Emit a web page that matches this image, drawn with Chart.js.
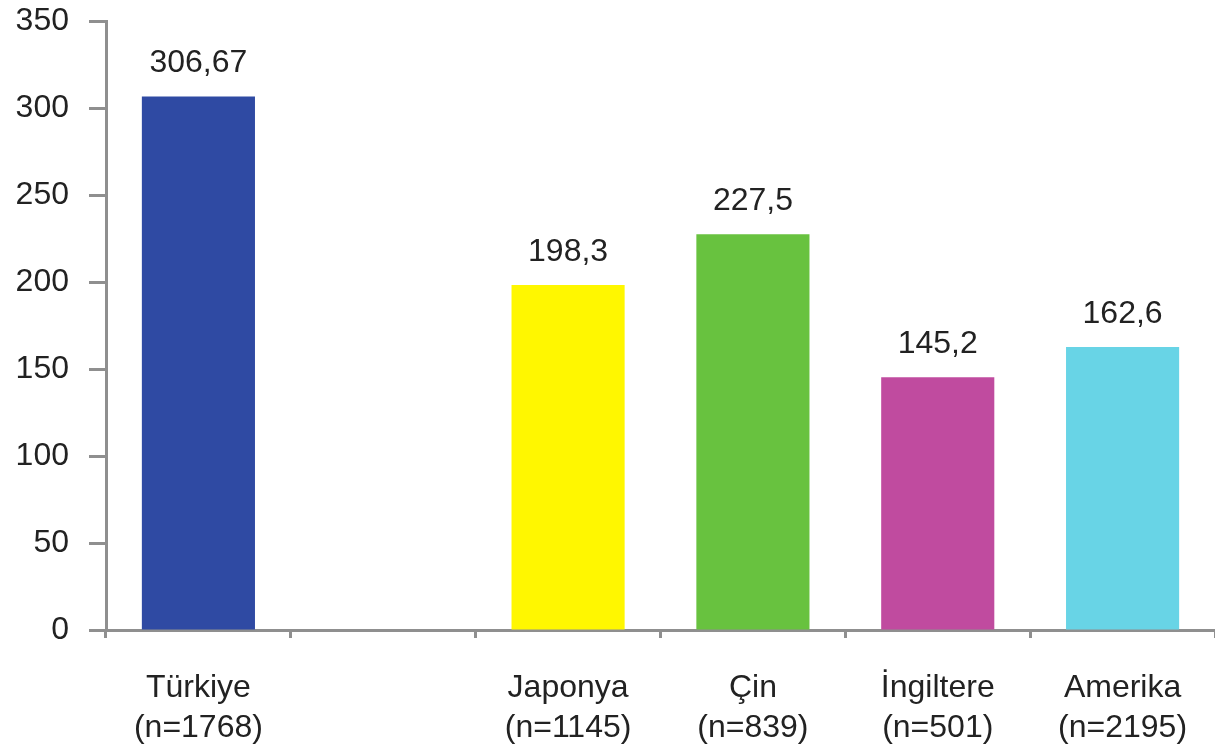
<!DOCTYPE html>
<html lang="tr">
<head>
<meta charset="utf-8">
<title>Ülkelere göre ortalama değerler</title>
<script src="https://cdn.jsdelivr.net/npm/chart.js@4.4.1/dist/chart.umd.min.js"></script>
<style>
  html, body { margin: 0; padding: 0; background: #ffffff; }
  #wrap { width: 1215px; height: 750px; position: relative; }
</style>
</head>
<body>
<div id="wrap"><canvas id="chart" width="1215" height="750"></canvas></div>
<script>
// Countries (with sample sizes); the empty slot keeps the gap after Türkiye
const countries = ['Türkiye', '', 'Japonya', 'Çin', 'İngiltere', 'Amerika'];
const sampleSizes = ['(n=1768)', '', '(n=1145)', '(n=839)', '(n=501)', '(n=2195)'];
const values = [306.67, null, 198.3, 227.5, 145.2, 162.6];
const barColors = ['#2F4AA3', '#ffffff', '#FFF700', '#68C23F', '#C04B9F', '#68D4E6'];
const yTicks = [0, 50, 100, 150, 200, 250, 300, 350];

const FONT = '"Liberation Sans", Arial, sans-serif';
const AXIS_GREY = '#8f8f8f';
const TEXT = '#222222';

const labels = countries.map((c, i) => c ? [c, sampleSizes[i]] : '');

// Writes each bar's value above it, with a decimal comma
const valueLabels = {
  id: 'valueLabels',
  afterDatasetsDraw(chart) {
    const ctx = chart.ctx;
    const meta = chart.getDatasetMeta(0);
    ctx.save();
    ctx.font = '32px ' + FONT;
    ctx.fillStyle = TEXT;
    ctx.textAlign = 'center';
    ctx.textBaseline = 'alphabetic';
    meta.data.forEach((bar, i) => {
      const v = values[i];
      if (v === null || v === undefined) return;
      ctx.fillText(String(v).replace('.', ','), bar.x, bar.y - 24);
    });
    ctx.restore();
  }
};

new Chart(document.getElementById('chart'), {
  type: 'bar',
  data: {
    labels: labels,
    datasets: [{
      data: values,
      backgroundColor: barColors,
      borderWidth: 0,
      barPercentage: 1,
      categoryPercentage: 0.612
    }]
  },
  options: {
    responsive: false,
    animation: false,
    devicePixelRatio: 1,
    layout: { padding: { top: 21, right: 0, bottom: 0, left: 0 } },
    plugins: {
      legend: { display: false },
      tooltip: { enabled: false }
    },
    scales: {
      x: {
        offset: true,
        border: { display: true, color: AXIS_GREY, width: 3 },
        grid: {
          display: true,
          drawOnChartArea: false,
          drawTicks: true,
          offset: true,
          tickLength: 8,
          tickWidth: 3,
          tickColor: AXIS_GREY
        },
        ticks: {
          color: TEXT,
          font: { family: FONT, size: 32, lineHeight: 1.25 },
          padding: 30,
          maxRotation: 0,
          autoSkip: false
        },
        afterFit(scale) {
          scale.height = 120;
          scale.paddingLeft = 0;
          scale.paddingRight = 0;
        }
      },
      y: {
        min: 0,
        max: 350,
        border: { display: true, color: AXIS_GREY, width: 3 },
        grid: {
          display: true,
          drawOnChartArea: false,
          drawTicks: true,
          tickLength: 17,
          tickWidth: 3,
          tickColor: AXIS_GREY
        },
        afterBuildTicks(scale) { scale.ticks = yTicks.map(v => ({ value: v })); },
        ticks: {
          color: TEXT,
          font: { family: FONT, size: 32 },
          padding: 20
        },
        afterFit(scale) {
          scale.width = 106;
          scale.paddingTop = 0;
          scale.paddingBottom = 0;
        }
      }
    }
  },
  plugins: [valueLabels]
});
</script>
</body>
</html>
